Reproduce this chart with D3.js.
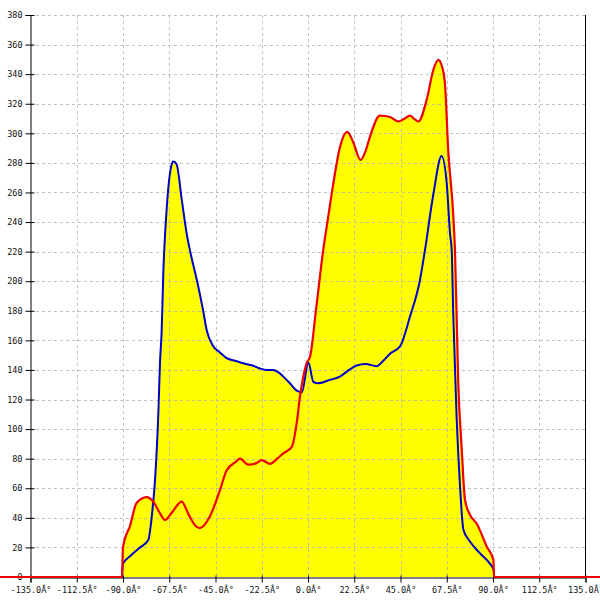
<!DOCTYPE html>
<html><head><meta charset="utf-8">
<script src="https://cdn.jsdelivr.net/npm/d3@7"></script>
<style>body{margin:0;background:#fff}svg{display:block}</style>
</head><body>
<script>
const xTicks = [-135,-112.5,-90,-67.5,-45,-22.5,0,22.5,45,67.5,90,112.5,135];
const xTickLabels = ["-135.0Â°","-112.5Â°","-90.0Â°","-67.5Â°","-45.0Â°","-22.5Â°","0.0Â°","22.5Â°","45.0Â°","67.5Â°","90.0Â°","112.5Â°","135.0Â°"];
const yTicks = [0,20,40,60,80,100,120,140,160,180,200,220,240,260,280,300,320,340,360,380];

const blueAngles = [-90.5,-90,-86.6,-81.7,-77.7,-76,-74.4,-72.8,-72,-71.2,-70.4,-68.7,-66.5,-65.5,-63.9,-61.5,-59,-56.5,-54.1,-51,-49.3,-46.1,-43,-39.6,-35,-31.5,-27,-23.4,-20,-16.9,-14,-12,-8.8,-5.5,-3,0.2,2.6,5,10,15.5,20,23.7,28,33.4,36.5,39.9,44.8,49.6,54.5,56.9,61,65,67.5,69.1,69.9,70.7,72.3,73.9,75.6,78.8,83.7,88.5,90.3,90.6];
const blueValues = [0,9,14,20,25,41,66,111,145,166,205,250,278,281,279,256,232,215,201,180,167,156,152,148,146,144.5,143,141,140,140,138,135.5,131,126,125,145,132,131,133,135.5,140,143,144,142.5,146,151,156,176,201,221,259,284.6,266,232,221,176,108,63,32,24,16,9,5,0];

const redAngles = [-180,-90.5,-90,-86.5,-83.4,-78.5,-75.3,-72,-69.6,-66,-61.5,-58,-55,-52.6,-47.7,-43,-39.6,-35,-33.1,-29,-25,-22.5,-18.5,-15,-12,-7.9,-5.5,-3.9,-0.7,1,4,7.4,10,12.3,15.6,19.1,22,25.6,28,30.2,35,39.9,44,47,49.6,51.5,53.7,57.7,61,63.4,65,66.6,68.2,70.7,71.5,73.1,74.8,76.4,78.8,82.1,87,90.2,90.5,180];
const redValues = [0,0,20,35,50,54,51,43,38.5,44,51,42,35,33,41,58,72,78,80,76,77,79,76.5,80,83.6,88,104,122,144.5,149,182,221,245,266,291,301,294,282,288,298,312,311,308,310,312,310,308,322.5,343,349.6,346,334,289,244,221,131,86,52,42,36,20.5,11.5,0,0];

const blueData = blueAngles.map((a,i)=>({a, v: blueValues[i]}));
const redData = redAngles.map((a,i)=>({a, v: redValues[i]}));

const W = 600, H = 600;
const svg = d3.select("body").append("svg").attr("width",W).attr("height",H);
const x = d3.scaleLinear().domain([-135,135]).range([30.5,585.5]);
const y = d3.scaleLinear().domain([0,380]).range([577,15]);

const area = d3.area().x(d=>x(d.a)).y0(y(0)).y1(d=>y(d.v)).curve(d3.curveMonotoneX);
const line = d3.line().x(d=>x(d.a)).y(d=>y(d.v)).curve(d3.curveMonotoneX);

svg.append("path").datum(blueData).attr("d",area).attr("fill","#ffff00");
svg.append("path").datum(redData).attr("d",area).attr("fill","#ffff00");

// grid
const grid = svg.append("g").attr("stroke","#b4b4b4").attr("stroke-width",1).attr("stroke-dasharray","3,3").attr("opacity",0.8);
yTicks.forEach(t=>{ if(t>0) grid.append("line").attr("x1",30).attr("x2",585).attr("y1",Math.round(y(t))+0.5).attr("y2",Math.round(y(t))+0.5); });
xTicks.forEach(t=>{ if(t!==-135 && t!==135) grid.append("line").attr("x1",Math.round(x(t))+0.5).attr("x2",Math.round(x(t))+0.5).attr("y1",15).attr("y2",577); });

// axes
const yAxis = d3.axisLeft(y).tickValues(yTicks).tickSize(5).tickPadding(3).tickFormat(d3.format("d"));
const gy = svg.append("g").attr("transform","translate(30.5,0)").call(yAxis);
gy.select(".domain").attr("stroke","#000");
gy.selectAll(".tick line").attr("x2",-5).attr("x1",4);
gy.selectAll("text").attr("font-family","DejaVu Sans Mono, monospace").attr("font-size","8.5px").attr("fill","#111");

const xAxis = d3.axisBottom(x).tickValues(xTicks).tickSize(5).tickPadding(4).tickFormat((d,i)=>xTickLabels[i]);
const gx = svg.append("g").attr("transform","translate(0,577.5)").call(xAxis);
gx.select(".domain").attr("stroke","#000");
gx.selectAll(".tick line").attr("y1",-2);
gx.selectAll("text").attr("font-family","DejaVu Sans Mono, monospace").attr("font-size","8.5px").attr("fill","#111");

svg.append("line").attr("x1",585.5).attr("x2",585.5).attr("y1",15).attr("y2",577).attr("stroke","#000");

svg.append("path").datum(blueData).attr("d",line).attr("fill","none").attr("stroke","#0000cc").attr("stroke-width",2);
svg.append("path").datum(redData).attr("d",line).attr("fill","none").attr("stroke","#ee0000").attr("stroke-width",2.2);
</script>
</body></html>
